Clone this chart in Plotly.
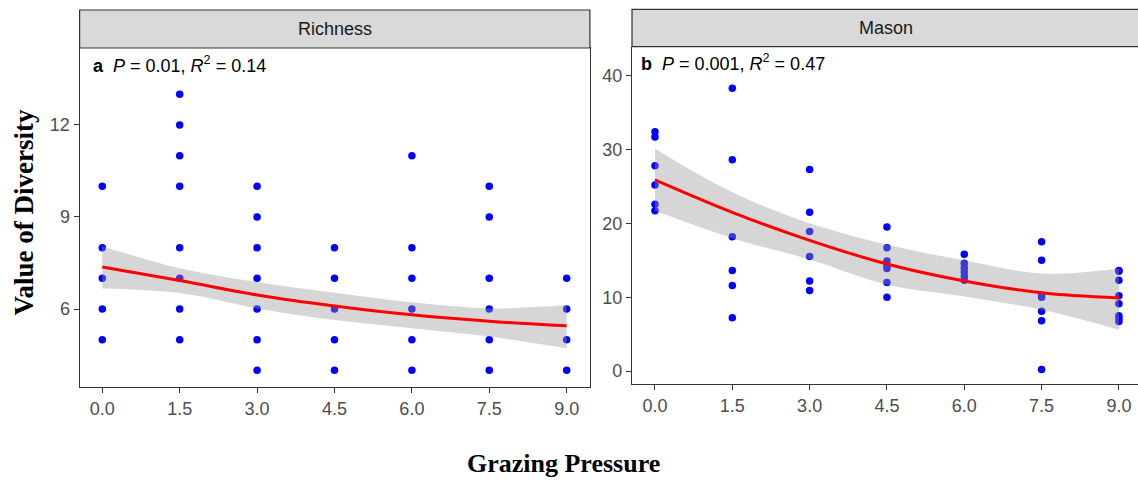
import plotly.graph_objects as go

W, H = 1138, 481

# ---- data ----
pressure_ticks = [0.0, 1.5, 3.0, 4.5, 6.0, 7.5, 9.0]
pressure_tick_labels = ["0.0", "1.5", "3.0", "4.5", "6.0", "7.5", "9.0"]

rich_x = [0, 0, 0, 0, 0,
          1.5, 1.5, 1.5, 1.5, 1.5, 1.5, 1.5, 1.5,
          3, 3, 3, 3, 3, 3, 3,
          4.5, 4.5, 4.5, 4.5, 4.5,
          6, 6, 6, 6, 6, 6,
          7.5, 7.5, 7.5, 7.5, 7.5, 7.5,
          9, 9, 9, 9]
rich_y = [10, 8, 7, 6, 5,
          13, 12, 11, 10, 8, 7, 6, 5,
          10, 9, 8, 7, 6, 5, 4,
          8, 7, 6, 5, 4,
          11, 8, 7, 6, 5, 4,
          10, 9, 7, 6, 5, 4,
          7, 6, 5, 4]

mason_x = [0, 0, 0, 0, 0, 0,
           1.5, 1.5, 1.5, 1.5, 1.5, 1.5,
           3, 3, 3, 3, 3, 3,
           4.5, 4.5, 4.5, 4.5, 4.5, 4.5, 4.5,
           6, 6, 6, 6, 6, 6,
           7.5, 7.5, 7.5, 7.5, 7.5, 7.5, 7.5,
           9, 9, 9, 9, 9, 9, 9, 9]
mason_y = [32.4, 31.7, 27.8, 25.2, 22.6, 21.7,
           38.3, 28.6, 18.2, 13.6, 11.6, 7.2,
           27.3, 21.5, 18.9, 15.5, 12.2, 10.9,
           19.5, 16.7, 14.9, 14.3, 13.9, 12.0, 10.0,
           15.8, 14.6, 14.0, 13.4, 12.8, 12.3,
           17.5, 15.0, 10.3, 10.0, 8.1, 6.8, 0.2,
           13.6, 13.5, 12.3, 10.2, 9.1, 7.5, 7.1, 6.7]

# fitted curves and confidence bands
fit_x = [0.0, 1.5, 3.0, 4.5, 6.0, 7.5, 9.0]
rich_fit = [7.37, 6.93, 6.46, 6.10, 5.81, 5.60, 5.45]
rich_upper = [8.05, 7.33, 6.88, 6.53, 6.22, 6.02, 6.13]
rich_lower = [6.67, 6.52, 6.02, 5.64, 5.37, 5.10, 4.72]
mason_fit = [25.9, 21.5, 17.7, 14.5, 12.2, 10.6, 9.9]
mason_upper = [30.1, 24.2, 20.0, 17.1, 15.0, 13.2, 13.9]
mason_lower = [21.7, 18.0, 15.1, 11.7, 10.1, 8.3, 5.6]

panel_titles = ["Richness", "Mason"]
panel_labels = ["<b>a</b>  <i>P</i> = 0.01, <i>R</i><sup>2</sup> = 0.14",
                "<b>b</b>  <i>P</i> = 0.001, <i>R</i><sup>2</sup> = 0.47"]

# ---- layout geometry (pixels) ----
def px(x):
    return x / W

def py(y):
    return 1 - y / H

L_x0, L_x1, L_y0, L_y1 = 79.6, 589.9, 48.0, 387.0
R_x0, R_x1, R_y0, R_y1 = 632.0, 1138.0, 46.7, 384.3

SANS = "Liberation Sans, Arial, sans-serif"
SERIF = "Liberation Serif, Times New Roman, serif"
BAND = "rgba(153,153,153,0.4)"

fig = go.Figure()

def add_panel(xs, ys, fx, fy, up, lo, xa, ya):
    fig.add_trace(go.Scatter(x=xs, y=ys, mode="markers", xaxis=xa, yaxis=ya,
                             marker=dict(color="#0000ff", size=7.5, line=dict(width=0)),
                             showlegend=False, hoverinfo="skip"))
    fig.add_trace(go.Scatter(x=fx, y=up, mode="lines", xaxis=xa, yaxis=ya,
                             line=dict(width=0, shape="spline", color=BAND),
                             showlegend=False, hoverinfo="skip"))
    fig.add_trace(go.Scatter(x=fx, y=lo, mode="lines", xaxis=xa, yaxis=ya,
                             line=dict(width=0, shape="spline", color=BAND),
                             fill="tonexty", fillcolor=BAND,
                             showlegend=False, hoverinfo="skip"))
    fig.add_trace(go.Scatter(x=fx, y=fy, mode="lines", xaxis=xa, yaxis=ya,
                             line=dict(width=3, shape="spline", color="#ff0000"),
                             showlegend=False, hoverinfo="skip"))

add_panel(rich_x, rich_y, fit_x, rich_fit, rich_upper, rich_lower, "x", "y")
add_panel(mason_x, mason_y, fit_x, mason_fit, mason_upper, mason_lower, "x2", "y2")

axis_common = dict(showgrid=False, zeroline=False, showline=True, linecolor="#333333",
                   linewidth=1.2, ticks="outside", ticklen=5, tickwidth=1.1,
                   tickcolor="#333333", tickfont=dict(family=SANS, size=18, color="#4d4d4d"))

fig.update_layout(
    width=W, height=H,
    margin=dict(l=0, r=0, t=0, b=0),
    paper_bgcolor="white", plot_bgcolor="white",
    xaxis=dict(domain=[px(L_x0), px(L_x1)], range=[-0.44, 9.45],
               tickvals=pressure_ticks, ticktext=pressure_tick_labels,
               anchor="y", mirror=True, **axis_common),
    yaxis=dict(domain=[py(L_y1), py(L_y0)], range=[3.457, 14.51],
               tickvals=[6, 9, 12], anchor="x", mirror=True, **axis_common),
    xaxis2=dict(domain=[px(R_x0), px(R_x1)], range=[-0.446, 9.37],
                tickvals=pressure_ticks, ticktext=pressure_tick_labels,
                anchor="y2", **axis_common),
    yaxis2=dict(domain=[py(R_y1), py(R_y0)], range=[-1.80, 43.93],
                tickvals=[0, 10, 20, 30, 40], anchor="x2", **axis_common),
)

# strips
shapes = []
for (x0, x1, ytop, ybot) in [(L_x0, L_x1, 10.0, L_y0), (R_x0, R_x1 + 2, 9.3, R_y0)]:
    shapes.append(dict(type="rect", xref="paper", yref="paper",
                       x0=px(x0), x1=px(x1), y0=py(ybot), y1=py(ytop),
                       fillcolor="#d9d9d9", line=dict(color="#333333", width=1.2),
                       layer="above"))
fig.update_layout(shapes=shapes)

annotations = [
    dict(text=panel_titles[0], x=px((L_x0 + L_x1) / 2), y=py(29.0),
         xref="paper", yref="paper", showarrow=False, xanchor="center", yanchor="middle",
         font=dict(family=SANS, size=18, color="#1a1a1a")),
    dict(text=panel_titles[1], x=px(886), y=py(28.3),
         xref="paper", yref="paper", showarrow=False, xanchor="center", yanchor="middle",
         font=dict(family=SANS, size=18, color="#1a1a1a")),
    dict(text=panel_labels[0], x=px(91), y=py(64),
         xref="paper", yref="paper", showarrow=False, xanchor="left", yanchor="middle",
         font=dict(family=SANS, size=18, color="black")),
    dict(text=panel_labels[1], x=px(639), y=py(62),
         xref="paper", yref="paper", showarrow=False, xanchor="left", yanchor="middle",
         font=dict(family=SANS, size=18, color="black")),
    dict(text="<b>Value of Diversity</b>", x=px(23), y=py(212.5), textangle=-90,
         xref="paper", yref="paper", showarrow=False, xanchor="center", yanchor="middle",
         font=dict(family=SERIF, size=27, color="black")),
    dict(text="<b>Grazing Pressure</b>", x=px(563), y=py(463),
         xref="paper", yref="paper", showarrow=False, xanchor="center", yanchor="middle",
         font=dict(family=SERIF, size=26, color="black")),
]
fig.update_layout(annotations=annotations)

fig.write_html("out.html")
